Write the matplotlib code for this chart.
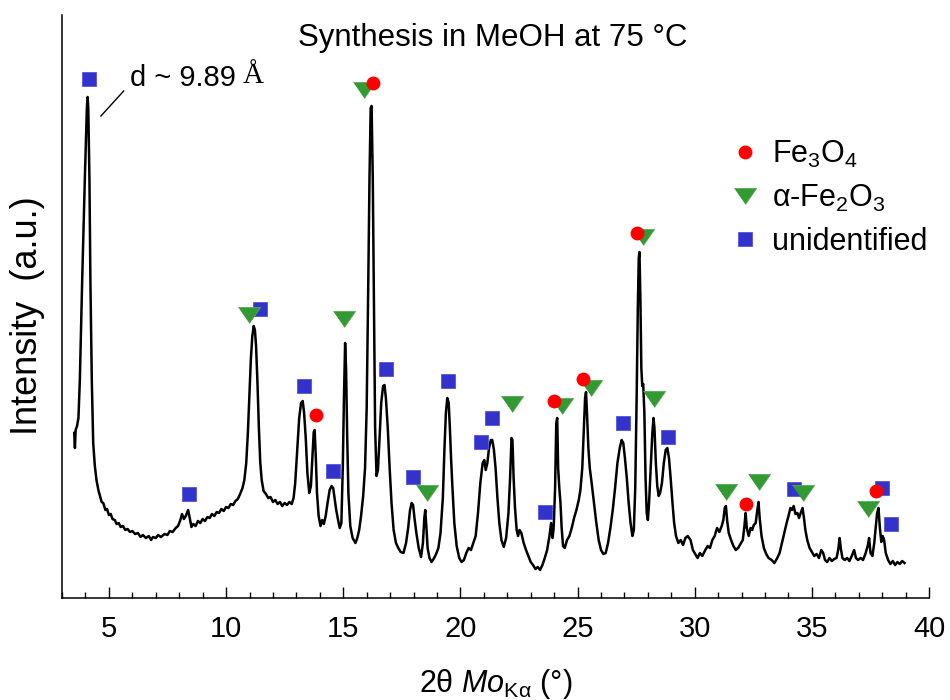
import matplotlib
matplotlib.use("Agg")
import matplotlib.pyplot as plt
from matplotlib.ticker import MultipleLocator
from matplotlib.lines import Line2D

plt.rcParams['font.family'] = ['Liberation Sans', 'DejaVu Sans']
plt.rcParams['mathtext.fontset'] = 'custom'
plt.rcParams['mathtext.rm'] = 'Liberation Sans'
plt.rcParams['mathtext.it'] = 'Liberation Sans:italic'
plt.rcParams['mathtext.default'] = 'regular'

# diffraction pattern (2theta in deg, intensity in a.u.)
two_theta = [
    3.52, 3.55, 3.58, 3.64, 3.70, 3.76, 3.86, 3.98, 4.06, 4.09,
    4.12, 4.17, 4.21, 4.27, 4.33, 4.40, 4.47, 4.55, 4.62, 4.69,
    4.76, 4.85, 4.92, 5.00, 5.08, 5.15, 5.25, 5.33, 5.42, 5.50,
    5.60, 5.70, 5.80, 5.90, 6.00, 6.12, 6.24, 6.35, 6.45, 6.58,
    6.70, 6.80, 6.88, 7.00, 7.10, 7.22, 7.38, 7.50, 7.60, 7.72,
    7.85, 7.95, 8.05, 8.12, 8.20, 8.28, 8.38, 8.45, 8.52, 8.60,
    8.70, 8.80, 8.90, 9.00, 9.10, 9.20, 9.30, 9.40, 9.50, 9.60,
    9.70, 9.80, 9.90, 10.00, 10.10, 10.20, 10.30, 10.40, 10.50, 10.60,
    10.70, 10.78, 10.86, 10.93, 11.00, 11.06, 11.12, 11.18, 11.23, 11.28,
    11.34, 11.40, 11.46, 11.52, 11.60, 11.70, 11.80, 11.90, 12.00, 12.10,
    12.20, 12.30, 12.40, 12.50, 12.60, 12.70, 12.80, 12.88, 12.95, 13.03,
    13.12, 13.20, 13.27, 13.33, 13.40, 13.47, 13.55, 13.62, 13.68, 13.74,
    13.78, 13.83, 13.88, 13.95, 14.03, 14.10, 14.17, 14.25, 14.33, 14.42,
    14.50, 14.57, 14.63, 14.70, 14.78, 14.85, 14.92, 14.98, 15.03, 15.08,
    15.12, 15.17, 15.22, 15.30, 15.40, 15.52, 15.60, 15.68, 15.76, 15.85,
    15.93, 16.00, 16.06, 16.12, 16.17, 16.21, 16.26, 16.31, 16.36, 16.42,
    16.48, 16.55, 16.62, 16.70, 16.76, 16.82, 16.90, 16.98, 17.06, 17.15,
    17.25, 17.35, 17.45, 17.57, 17.68, 17.77, 17.85, 17.92, 17.98, 18.05,
    18.12, 18.22, 18.32, 18.40, 18.46, 18.50, 18.55, 18.60, 18.68, 18.77,
    18.88, 18.98, 19.06, 19.15, 19.25, 19.32, 19.38, 19.44, 19.50, 19.55,
    19.60, 19.66, 19.74, 19.84, 19.95, 20.05, 20.15, 20.25, 20.35, 20.45,
    20.55, 20.65, 20.75, 20.85, 20.95, 21.02, 21.08, 21.15, 21.22, 21.30,
    21.36, 21.43, 21.50, 21.58, 21.66, 21.75, 21.85, 21.95, 22.05, 22.12,
    22.18, 22.22, 22.27, 22.33, 22.40, 22.46, 22.52, 22.60, 22.70, 22.80,
    22.90, 23.00, 23.10, 23.20, 23.30, 23.40, 23.50, 23.60, 23.70, 23.80,
    23.87, 23.93, 23.98, 24.04, 24.09, 24.13, 24.17, 24.22, 24.27, 24.32,
    24.38, 24.45, 24.55, 24.65, 24.75, 24.85, 24.95, 25.05, 25.12, 25.20,
    25.27, 25.32, 25.36, 25.41, 25.46, 25.52, 25.60, 25.70, 25.80, 25.90,
    26.00, 26.10, 26.20, 26.30, 26.40, 26.50, 26.60, 26.70, 26.80, 26.88,
    26.95, 27.02, 27.10, 27.18, 27.26, 27.34, 27.40, 27.46, 27.52, 27.57,
    27.61, 27.64, 27.68, 27.72, 27.76, 27.80, 27.85, 27.90, 27.95, 28.00,
    28.05, 28.12, 28.19, 28.24, 28.28, 28.34, 28.40, 28.46, 28.52, 28.60,
    28.68, 28.76, 28.83, 28.90, 28.97, 29.05, 29.12, 29.20, 29.30, 29.40,
    29.50, 29.60, 29.70, 29.82, 29.92, 30.02, 30.12, 30.22, 30.32, 30.45,
    30.55, 30.65, 30.75, 30.85, 30.95, 31.05, 31.15, 31.22, 31.28, 31.33,
    31.38, 31.45, 31.55, 31.65, 31.75, 31.85, 31.95, 32.05, 32.12, 32.17,
    32.22, 32.30, 32.38, 32.45, 32.52, 32.60, 32.67, 32.72, 32.77, 32.85,
    32.95, 33.05, 33.15, 33.28, 33.40, 33.52, 33.62, 33.72, 33.82, 33.92,
    34.00, 34.08, 34.15, 34.22, 34.30, 34.38, 34.45, 34.52, 34.60, 34.66,
    34.72, 34.80, 34.90, 35.00, 35.10, 35.20, 35.30, 35.40, 35.48, 35.56,
    35.65, 35.75, 35.85, 35.95, 36.05, 36.12, 36.18, 36.23, 36.30, 36.40,
    36.50, 36.60, 36.70, 36.80, 36.88, 36.97, 37.08, 37.18, 37.28, 37.38,
    37.44, 37.50, 37.58, 37.66, 37.72, 37.78, 37.84, 37.90, 37.96, 38.02,
    38.08, 38.15, 38.25, 38.35, 38.45, 38.55, 38.65, 38.75, 38.85, 38.95,
]
intensity = [
    165, 150, 168, 172, 180, 218, 318, 425, 490, 501,
    490, 418, 318, 218, 155, 132, 118, 108, 102, 96,
    95, 88, 89, 83, 84, 79, 78, 74, 75, 71,
    72, 68, 69, 66, 67, 64, 65, 61, 63, 60,
    62, 58, 61, 60, 63, 61, 64, 63, 67, 66,
    70, 72, 78, 84, 79, 82, 88, 80, 71, 74,
    72, 77, 75, 79, 77, 81, 80, 84, 82, 86,
    85, 89, 87, 91, 90, 94, 93, 97, 99, 104,
    110, 118, 135, 165, 205, 240, 262, 272, 268, 252,
    215, 170, 135, 118, 107, 104, 100, 101, 96, 98,
    94, 96, 92, 95, 93, 96, 94, 100, 115, 145,
    180, 195, 197, 185, 160, 125, 105, 112, 140, 166,
    168, 140, 105, 82, 72, 78, 74, 82, 95, 108,
    112, 110, 100, 88, 78, 70, 75, 130, 200, 255,
    230, 160, 105, 72, 60, 55, 60, 68, 82, 102,
    130, 190, 300, 420, 490, 492, 420, 290, 170, 122,
    128, 160, 195, 212, 213, 200, 170, 130, 95, 68,
    55, 50, 46, 45, 55, 70, 88, 95, 93, 78,
    65, 50, 41, 55, 80, 88, 70, 50, 40, 36,
    40, 45, 50, 65, 100, 150, 185, 200, 195, 170,
    140, 110, 75, 52, 40, 36, 38, 45, 50, 48,
    55, 62, 85, 115, 135, 138, 128, 135, 150, 158,
    158, 148, 130, 100, 75, 58, 51, 60, 85, 120,
    160, 158, 120, 90, 68, 62, 68, 65, 55, 48,
    42, 36, 33, 29, 31, 28, 33, 40, 48, 62,
    75, 60, 70, 110, 175, 180, 130, 110, 95, 70,
    52, 50, 58, 62, 70, 80, 88, 98, 108, 130,
    170, 200, 206, 180, 150, 130, 115, 95, 75, 58,
    48, 44, 45, 55, 70, 88, 110, 135, 150, 158,
    155, 140, 120, 95, 75, 62, 68, 110, 200, 290,
    340, 346, 300, 230, 212, 214, 185, 120, 85, 78,
    95, 130, 165, 180, 170, 135, 112, 102, 105, 115,
    135, 148, 150, 140, 120, 95, 75, 62, 55, 58,
    53, 60, 62, 58, 48, 44, 40, 45, 42, 48,
    52, 50, 58, 62, 70, 66, 72, 78, 90, 92,
    78, 65, 58, 52, 48, 50, 54, 58, 72, 85,
    70, 62, 70, 68, 73, 75, 88, 96, 80, 62,
    50, 44, 40, 38, 35, 40, 45, 55, 65, 75,
    82, 90, 88, 92, 84, 85, 80, 85, 90, 80,
    68, 58, 50, 46, 42, 44, 40, 48, 45, 38,
    36, 40, 37, 39, 40, 48, 60, 50, 40, 38,
    40, 37, 42, 48, 40, 38, 40, 38, 44, 52,
    60, 45, 42, 55, 70, 85, 90, 70, 56, 62,
    58, 45, 38, 34, 37, 33, 36, 34, 37, 35,
]

# phase markers (position, height)
fe3o4_x = [13.82, 16.25, 23.99, 25.22, 27.52, 32.20, 37.72]
fe3o4_y = [183, 515, 197, 219, 365, 94, 107]
fe2o3_x = [10.99, 15.05, 15.87, 18.56, 22.21, 24.34, 25.57, 27.80, 28.26, 31.33, 32.75, 34.63, 37.40]
fe2o3_y = [283, 279, 508, 105, 194, 192, 210, 361, 199, 106, 116, 105, 89]
unid_x = [4.15, 8.41, 11.44, 13.31, 14.55, 16.84, 17.97, 19.45, 20.87, 21.36, 23.59, 26.95, 28.86,
          34.24, 38.00, 38.36]
unid_y = [519, 104, 289, 212, 127, 229, 121, 217, 156, 180, 86, 175, 161, 109, 110, 74]

red = '#ff0000'
green = '#339933'
blue = '#3333cc'
tri = [(-1, 0.72), (1, 0.72), (0, -0.72)]

fig = plt.figure(figsize=(9.5, 7), dpi=100)
ax = fig.add_axes([0.0653, 0.1457, 0.9127, 0.8329])

ax.plot(two_theta, intensity, color='black', lw=1.8, zorder=2)
ax.plot(unid_x, unid_y, ls='none', marker='s', ms=10, color=blue, mec='#5555dd', mew=0.6, zorder=3)
ax.plot(fe2o3_x, fe2o3_y, ls='none', marker=tri, ms=16, color=green, mec='#55aa55', mew=0.6, zorder=4)
ax.plot(fe3o4_x, fe3o4_y, ls='none', marker='o', ms=10, color=red, mew=0, zorder=5)

ax.set_xlim(3, 40)
ax.set_ylim(0, 583)
ax.spines['top'].set_visible(False)
ax.spines['right'].set_visible(False)
for s in ('left', 'bottom'):
    ax.spines[s].set_linewidth(1.1)
ax.set_yticks([])
ax.xaxis.set_major_locator(MultipleLocator(5))
ax.xaxis.set_minor_locator(MultipleLocator(1))
ax.tick_params(axis='x', which='major', direction='in', length=8, width=1, labelsize=21, pad=12)
ax.tick_params(axis='x', which='minor', direction='in', length=4, width=1)

ax.set_xlabel(r'2θ $\mathit{Mo}_{\mathregular{K\alpha}}$ (°)', fontsize=22)
ax.xaxis.set_label_coords(0.5, -0.118)
ax.set_ylabel('Intensity  (a.u.)', fontsize=26)
ax.yaxis.set_label_coords(-0.02, 0.484)

ax.text(0.497, 0.961, 'Synthesis in MeOH at 75 °C', transform=ax.transAxes,
        ha='center', va='center', fontsize=22.5)

# d-spacing note for the first reflection
ax.plot([4.66, 5.63], [482, 507], color='black', lw=1)
ax.text(5.89, 520, 'd ~ 9.89', fontsize=21, ha='left', va='center')
ax.text(10.72, 522, 'Å', fontsize=21, ha='left', va='center', family='Liberation Serif')

handles = [
    Line2D([], [], ls='none', marker='o', ms=10, color=red, mew=0),
    Line2D([], [], ls='none', marker=tri, ms=16, color=green, mec='#55aa55', mew=0.6),
    Line2D([], [], ls='none', marker='s', ms=10, color=blue, mec='#5555dd', mew=0.6),
]
labels = [r'Fe$_3$O$_4$', r'α-Fe$_2$O$_3$', 'unidentified']
ax.legend(handles, labels, loc='upper left', bbox_to_anchor=(0.738, 0.835), frameon=False,
          fontsize=22, handletextpad=0.4, labelspacing=0.42, handlelength=1.0)

fig.savefig('out.png', dpi=100)
